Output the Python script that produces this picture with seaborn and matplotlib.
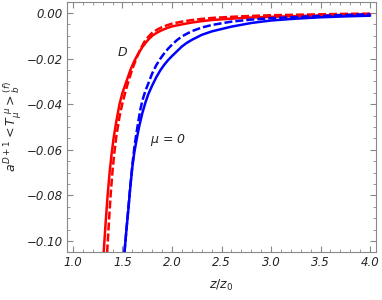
import numpy as np
import pandas as pd
import matplotlib
matplotlib.use("Agg")
import matplotlib.pyplot as plt
import seaborn as sns
from matplotlib.ticker import MultipleLocator

# values
red_solid_z = [1.31, 1.33, 1.35, 1.37, 1.39, 1.41, 1.44, 1.47, 1.50, 1.54, 1.58, 1.62, 1.66, 1.70, 1.75,
               1.80, 1.85, 1.90, 1.95, 2.0, 2.1, 2.2, 2.3, 2.4, 2.6, 2.8, 3.0, 3.25, 3.5, 3.75, 4.0]
red_solid_v = [-0.105, -0.092, -0.080, -0.070, -0.062, -0.055, -0.047, -0.040, -0.035, -0.030, -0.025,
               -0.021, -0.0178, -0.0150, -0.0122, -0.0100, -0.0086, -0.0075, -0.0066, -0.0059, -0.0050,
               -0.0042, -0.0036, -0.0031, -0.0025, -0.0020, -0.0017, -0.0014, -0.0011, -0.0008, -0.0006]

red_dash_z = [1.345, 1.36, 1.38, 1.40, 1.42, 1.44, 1.47, 1.50, 1.53, 1.56, 1.60, 1.64, 1.68, 1.72, 1.76,
              1.80, 1.85, 1.90, 1.95, 2.0, 2.1, 2.2, 2.3, 2.4, 2.6, 2.8, 3.0, 3.25, 3.5, 3.75, 4.0]
red_dash_v = [-0.105, -0.094, -0.080, -0.0690, -0.0605, -0.0535, -0.0455, -0.0395, -0.0345, -0.0300,
              -0.0245, -0.0200, -0.0160, -0.0127, -0.0105, -0.0087, -0.0073, -0.0062, -0.0054, -0.0047,
              -0.0038, -0.0031, -0.0026, -0.0022, -0.0017, -0.0013, -0.0010, -0.0008, -0.0006, -0.0004,
              -0.0003]

blue_solid_z = [1.52, 1.54, 1.56, 1.58, 1.60, 1.62, 1.645, 1.67, 1.70, 1.73, 1.76, 1.80, 1.84, 1.88, 1.92,
                1.96, 2.0, 2.05, 2.1, 2.15, 2.2, 2.3, 2.4, 2.6, 2.8, 3.0, 3.25, 3.5, 3.75, 4.0]
blue_solid_v = [-0.105, -0.095, -0.086, -0.0760, -0.0675, -0.0610, -0.0550, -0.0495, -0.0440, -0.0395,
                -0.0357, -0.0318, -0.0283, -0.0253, -0.0228, -0.0207, -0.0189, -0.0168, -0.0147, -0.0131,
                -0.0118, -0.0096, -0.0081, -0.0060, -0.0044, -0.0033, -0.0025, -0.0019, -0.0015, -0.0012]

blue_dash_z = [1.52, 1.54, 1.56, 1.58, 1.60, 1.62, 1.64, 1.66, 1.68, 1.70, 1.73, 1.76, 1.80, 1.84, 1.88,
               1.92, 1.96, 2.0, 2.05, 2.1, 2.15, 2.2, 2.3, 2.4, 2.6, 2.8, 3.0, 3.25, 3.5, 3.75, 4.0]
blue_dash_v = [-0.105, -0.095, -0.085, -0.0755, -0.0665, -0.0590, -0.0530, -0.0475, -0.0425, -0.0385,
               -0.0343, -0.0310, -0.0265, -0.0230, -0.0202, -0.0178, -0.0157, -0.0139, -0.0119, -0.0103,
               -0.0091, -0.0080, -0.0064, -0.0053, -0.0038, -0.0029, -0.0023, -0.0018, -0.0013, -0.0009,
               -0.0006]

curves = [
    ("red solid", red_solid_z, red_solid_v),
    ("red dash", red_dash_z, red_dash_v),
    ("blue solid", blue_solid_z, blue_solid_v),
    ("blue dash", blue_dash_z, blue_dash_v),
]
df = pd.concat(
    [pd.DataFrame({"z": z, "v": v, "curve": name}) for name, z, v in curves],
    ignore_index=True,
)

sns.set_style("ticks")
plt.rcParams["font.family"] = ["DejaVu Sans"]
plt.rcParams["mathtext.fontset"] = "dejavusans"

fig = plt.figure(figsize=(3.82, 3.0), dpi=100)
ax = fig.add_axes([0.1754, 0.16, 0.809, 0.8333])

palette = {"red solid": "#ff0000", "red dash": "#ff0000", "blue solid": "#0000ff", "blue dash": "#0000ff"}
dashes = {"red solid": "", "red dash": (3.2, 1.2), "blue solid": "", "blue dash": (3.2, 1.2)}
sns.lineplot(data=df, x="z", y="v", hue="curve", style="curve", palette=palette, dashes=dashes,
             linewidth=1.8, sort=False, legend=False, ax=ax)


def fmt_y(y, pos):
    if abs(y) < 1e-9:
        y = 0.0
    return f"{y:.2f}".replace("-", "\u2212")


ax.set_xlim(0.94, 4.06)
ax.set_ylim(-0.1048, 0.0048)
ax.xaxis.set_major_locator(MultipleLocator(0.5))
ax.xaxis.set_minor_locator(MultipleLocator(0.1))
ax.yaxis.set_major_locator(MultipleLocator(0.02))
ax.yaxis.set_minor_locator(MultipleLocator(0.005))
ax.xaxis.set_major_formatter(plt.FuncFormatter(lambda x, p: f"{x:.1f}"))
ax.yaxis.set_major_formatter(plt.FuncFormatter(fmt_y))

ax.tick_params(which="both", direction="in", top=True, right=True, color="#888888",
               labelsize=8.5, pad=3)
ax.tick_params(which="major", length=4, width=0.8)
ax.tick_params(which="minor", length=2, width=0.6)
for lab in ax.get_xticklabels() + ax.get_yticklabels():
    lab.set_fontstyle("italic")
for s in ax.spines.values():
    s.set_color("#888888")
    s.set_linewidth(0.8)

ax.set_xlabel(r"$z/z_0$", fontsize=9, labelpad=6)
ax.set_ylabel(r"$a^{D+1}<T_{\mu}^{\ \mu}>_b^{(f)}$", fontsize=9, labelpad=2)

ax.text(1.505, -0.0175, "D", fontsize=9, style="italic", ha="center", va="center")
ax.text(1.96, -0.0557, r"$\mu$ = 0", fontsize=9, style="italic", ha="center", va="center")

fig.savefig("out.png", dpi=100)
